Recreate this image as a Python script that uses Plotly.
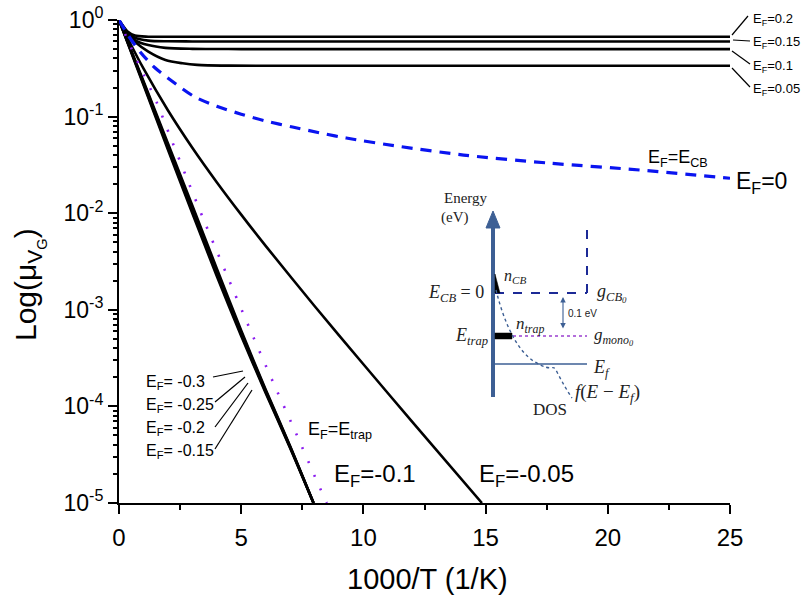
import plotly.graph_objects as go

# ---------------- data ----------------
x_p020 = [0, 0.15, 0.35, 0.65, 1.2, 2.0, 25]
y_p020 = [1, 0.88, 0.76, 0.69, 0.672, 0.67, 0.67]
x_p015 = [0, 0.15, 0.35, 0.65, 1.2, 2.0, 3.0, 25]
y_p015 = [1, 0.87, 0.745, 0.655, 0.612, 0.602, 0.60, 0.60]
x_p010 = [0, 0.15, 0.35, 0.65, 1.2, 1.9, 3.0, 5.0, 25]
y_p010 = [1, 0.86, 0.73, 0.62, 0.55, 0.515, 0.503, 0.50, 0.50]
x_p005 = [0, 0.15, 0.35, 0.65, 1.2, 1.9, 2.6, 3.2, 4.5, 7.0, 25]
y_p005 = [1, 0.85, 0.715, 0.596, 0.47, 0.385, 0.356, 0.343, 0.337, 0.336, 0.336]

x_ecb = [0, 0.4, 0.86, 1.47, 2.3, 3.1, 4.0, 5.0, 6.0, 7.1, 8.2, 9.3, 11.5, 14.1, 17.6, 21.3, 25]
y_ecb = [1, 0.68, 0.47, 0.32, 0.22, 0.16, 0.128, 0.106, 0.09, 0.078, 0.068, 0.06, 0.049, 0.040, 0.033, 0.028, 0.023]

x_bundle = [0, 1, 2, 3, 4, 5, 6, 7, 7.96]
y_m030 = [1, 0.214, 0.0457, 0.0100, 0.00224, 5.37e-4, 1.38e-4, 3.72e-5, 1.0e-5]
y_m025 = [1, 0.220, 0.0480, 0.0106, 0.00238, 5.60e-4, 1.42e-4, 3.78e-5, 1.0e-5]
y_m020 = [1, 0.227, 0.0505, 0.0113, 0.00252, 5.85e-4, 1.46e-4, 3.85e-5, 1.0e-5]
y_m015 = [1, 0.234, 0.0530, 0.0120, 0.00268, 6.10e-4, 1.50e-4, 3.90e-5, 1.0e-5]

x_trap = [0, 0.5, 1.0, 1.54, 2.13, 2.81, 3.55, 4.38, 5.5, 6.34, 7.23, 8.09, 8.5]
y_trap = [1, 0.513, 0.275, 0.141, 0.0589, 0.0219, 0.00759, 0.0024, 5.19e-4, 1.70e-4, 5.37e-5, 1.70e-5, 1.0e-5]

x_m005 = [0, 0.5, 1, 2, 3, 4, 5, 6, 8, 10, 12, 14.85]
y_m005 = [1, 0.548, 0.315, 0.1164, 0.0476, 0.02094, 0.00966, 0.00459, 0.001096, 2.73e-4, 6.92e-5, 1.0e-5]

x_ticks = [0, 5, 10, 15, 20, 25]
x_minor = [2.5, 7.5, 12.5, 17.5, 22.5]
y_ticks = [1e-5, 1e-4, 1e-3, 1e-2, 1e-1, 1]
y_ticktext = ["10<sup>-5</sup>", "10<sup>-4</sup>", "10<sup>-3</sup>",
              "10<sup>-2</sup>", "10<sup>-1</sup>", "10<sup>0</sup>"]
y_minor = [m * 10.0 ** e for e in range(-5, 0) for m in range(2, 10)]

W, H = 808, 596
FONT = "Liberation Sans, Arial, sans-serif"
SERIF = "Liberation Serif, DejaVu Serif, serif"


def X(px):
    return px / W


def Y(py):
    return 1 - py / H


fig = go.Figure()

black_sets = [(x_p020, y_p020), (x_p015, y_p015), (x_p010, y_p010), (x_p005, y_p005),
              (x_bundle, y_m030), (x_bundle, y_m025), (x_bundle, y_m020), (x_bundle, y_m015),
              (x_m005, y_m005)]
for xs, ys in black_sets:
    fig.add_trace(go.Scatter(x=xs, y=ys, mode="lines",
                             line=dict(color="black", width=2.6, shape="spline", smoothing=0.8),
                             showlegend=False, hoverinfo="skip"))

fig.add_trace(go.Scatter(x=x_trap, y=y_trap, mode="lines",
                         line=dict(color="#8b1cf0", width=2.6, dash="2px,13px", shape="spline", smoothing=0.8),
                         showlegend=False, hoverinfo="skip"))
fig.add_trace(go.Scatter(x=x_ecb, y=y_ecb, mode="lines",
                         line=dict(color="#0a14f0", width=3.2, dash="11px,8px", shape="spline", smoothing=0.8),
                         showlegend=False, hoverinfo="skip"))

axis_common = dict(showgrid=False, zeroline=False, showline=True, linecolor="black", linewidth=2,
                   tickcolor="black", tickwidth=2)

fig.update_layout(
    width=W, height=H,
    margin=dict(l=0, r=0, t=0, b=0, autoexpand=False),
    paper_bgcolor="white", plot_bgcolor="rgba(0,0,0,0)",
    font=dict(family=FONT, color="black"),
    xaxis=dict(domain=[X(119), X(730)], range=[0, 25], tickmode="array", tickvals=x_ticks,
               ticks="outside", ticklen=9, tickfont=dict(size=24, family=FONT),
               ticklabelstandoff=3,
               minor=dict(tickmode="array", tickvals=x_minor, ticks="outside", ticklen=5,
                          tickwidth=1.5, tickcolor="black", showgrid=False),
               anchor="y", **axis_common),
    yaxis=dict(domain=[Y(503), Y(20)], type="log", range=[-5, 0], tickmode="array",
               tickvals=y_ticks, ticktext=y_ticktext, ticks="outside", ticklen=9,
               tickfont=dict(size=23, family=FONT),
               minor=dict(tickmode="array", tickvals=y_minor, ticks="outside", ticklen=4,
                          tickwidth=1.5, tickcolor="black", showgrid=False),
               anchor="x", **axis_common),
    xaxis2=dict(overlaying="x", side="top", anchor="y", range=[0, 25], tickmode="array",
                tickvals=x_ticks, ticks="inside", ticklen=9, showticklabels=False,
                minor=dict(tickmode="array", tickvals=x_minor, ticks="inside", ticklen=6,
                           tickwidth=1.5, tickcolor="black", showgrid=False),
                **axis_common),
    yaxis2=dict(overlaying="y", side="right", anchor="x", type="log", range=[-5, 0],
                tickmode="array", tickvals=y_ticks, ticks="inside", ticklen=9,
                showticklabels=False,
                minor=dict(tickmode="array", tickvals=y_minor, ticks="inside", ticklen=4,
                           tickwidth=1.5, tickcolor="black", showgrid=False),
                **axis_common),
)

ann = []


def txt(x, y, s, size, xanchor="left", family=FONT, color="black", yanchor="middle"):
    ann.append(dict(x=X(x), y=Y(y), xref="paper", yref="paper", text=s, showarrow=False,
                    xanchor=xanchor, yanchor=yanchor,
                    font=dict(size=size, family=family, color=color)))


# axis titles
txt(427, 579, "1000/T (1/K)", 29, xanchor="center")
ann.append(dict(x=X(29), y=Y(284), xref="paper", yref="paper",
                text="Log(μ<sub>V<sub>G</sub></sub>)", showarrow=False, textangle=-90,
                xanchor="center", yanchor="middle", font=dict(size=30, family=FONT)))

# right labels
for yy, s in [(20, "0.2"), (43, "0.15"), (66, "0.1"), (89, "0.05")]:
    txt(751, yy, "E<sub>F</sub>=" + s, 13)
# left labels
for yy, s in [(382, "-0.3"), (405, "-0.25"), (428, "-0.2"), (451, "-0.15")]:
    txt(144, yy, "E<sub>F</sub>= " + s, 16)

txt(306, 430, "E<sub>F</sub>=E<sub>trap</sub>", 18)
txt(332, 475, "E<sub>F</sub>=-0.1", 24)
txt(477, 475, "E<sub>F</sub>=-0.05", 24)
txt(646, 158, "E<sub>F</sub>=E<sub>CB</sub>", 18)
txt(734, 183, "E<sub>F</sub>=0", 23)

shapes = []


def seg(x0, y0, x1, y1, color="black", width=1.2, dash="solid"):
    shapes.append(dict(type="line", xref="paper", yref="paper", x0=X(x0), y0=Y(y0),
                       x1=X(x1), y1=Y(y1), line=dict(color=color, width=width, dash=dash)))


def path(pts_cmd, color, fill=None, width=1.5, dash="solid"):
    shapes.append(dict(type="path", xref="paper", yref="paper", path=pts_cmd,
                       line=dict(color=color, width=width, dash=dash),
                       fillcolor=fill if fill else "rgba(0,0,0,0)"))


def P(x, y):
    return f"{X(x):.5f},{Y(y):.5f}"


# pointer lines right
seg(732, 35, 748, 16)
seg(733, 40, 750, 41)
seg(732, 51, 750, 64)
seg(732, 68, 750, 87)
# pointer lines left
seg(213, 377, 243, 371)
seg(215, 402, 245, 377)
seg(215, 427, 248, 383)
seg(215, 449, 252, 390)

# ---------------- inset diagram ----------------
AX = "#3d5f94"
seg(493, 397, 493, 224, color=AX, width=4)
path(f"M {P(486, 228)} L {P(500, 228)} L {P(493, 211)} Z", AX, fill=AX, width=1)
# CB dashed DOS
seg(495, 293, 587, 293, color="#1c2a96", width=2, dash="dash")
seg(587, 293, 587, 222, color="#1c2a96", width=2, dash="dash")
# trap level
path(f"M {P(495, 333)} L {P(512, 333)} L {P(512, 339)} L {P(495, 339)} Z", "black", fill="black", width=0.5)
seg(513, 336, 587, 336, color="#9b3fd0", width=1.6, dash="dot")
# n_CB triangle
path(f"M {P(495, 274)} L {P(495, 293)} L {P(500, 293)} Z", "black", fill="black", width=0.5)
# Fermi level
seg(495, 364, 587, 364, color=AX, width=1.6)
# Fermi function dotted curve
path(f"M {P(496, 290)} C {P(503, 318)} {P(515, 350)} {P(535, 362)} "
     f"S {P(552, 362)} {P(557, 372)} S {P(568, 392)} {P(572, 398)}",
     AX, width=1.4, dash="dot")
# 0.1 eV double arrow
ann.append(dict(x=X(563), y=Y(297), ax=0, ay=33, xref="paper", yref="paper",
                axref="pixel", ayref="pixel", text="", showarrow=True, arrowhead=2,
                arrowside="end+start", arrowsize=1, arrowwidth=1.1, arrowcolor=AX))

INK = "#222222"
txt(466, 198, "Energy", 15, xanchor="center", family=SERIF, color=INK)
txt(455, 218, "(eV)", 15, xanchor="center", family=SERIF, color=INK)
txt(502, 276, "<i>n<sub>CB</sub></i>", 16, family=SERIF, color=INK)
txt(486, 293, "<i>E<sub>CB</sub></i> = 0", 18, xanchor="right", family=SERIF, color=INK)
txt(595, 293, "<i>g<sub>CB<sub>0</sub></sub></i>", 18, family=SERIF, color=INK)
txt(566, 313, "0.1 eV", 10, family=FONT, color=INK)
txt(514, 325, "<i>n<sub>trap</sub></i>", 17, family=SERIF, color=INK)
txt(490, 336, "<i>E<sub>trap</sub></i>", 18, xanchor="right", family=SERIF, color=INK)
txt(592, 336, "<i>g<sub>mono<sub>0</sub></sub></i>", 17, family=SERIF, color=INK)
txt(591, 368, "<i>E<sub>f</sub></i>", 18, family=SERIF, color=INK)
txt(573, 393, "<i>f</i>(<i>E</i> − <i>E<sub>f</sub></i>)", 19, family=SERIF, color=INK)
txt(550, 410, "DOS", 17, xanchor="center", family=SERIF, color=INK)

fig.update_layout(annotations=ann, shapes=shapes)

fig.write_html("out.html")
